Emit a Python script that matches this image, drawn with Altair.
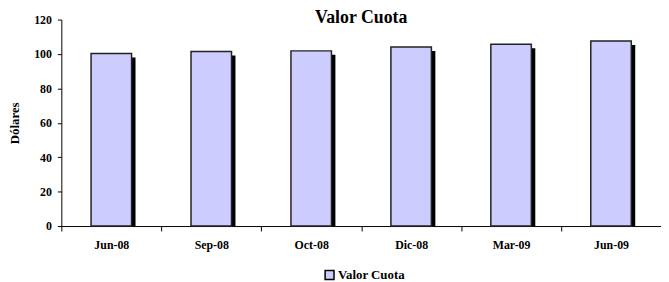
import altair as alt
import pandas as pd

categories = ["Jun-08", "Sep-08", "Oct-08", "Dic-08", "Mar-09", "Jun-09"]
values = [100.3, 101.4, 101.8, 104.1, 105.6, 107.5]
series_name = "Valor Cuota"
y_ticks = [0, 20, 40, 60, 80, 100, 120]

df = pd.DataFrame({"cat": categories, "val": values, "serie": series_name})

FONT = "Liberation Serif"

x_enc = alt.X("cat:N", sort=categories, title=None,
              scale=alt.Scale(paddingInner=0, paddingOuter=0),
              axis=alt.Axis(labelAngle=0, tickBand="extent", labelFont=FONT,
                            labelFontWeight="bold", labelFontSize=12, labelColor="black",
                            domainColor="black", tickColor="black", tickSize=5,
                            labelPadding=9))
y_enc = alt.Y("val:Q", title="Dólares",
              scale=alt.Scale(domain=[0, 120], nice=False),
              axis=alt.Axis(values=y_ticks, grid=False, labelFont=FONT,
                            labelFontWeight="bold", labelFontSize=12, labelColor="black",
                            labelPadding=6,
                            titleFont=FONT, titleFontWeight="bold", titleFontSize=13,
                            titleColor="black", domainColor="black", tickColor="black",
                            tickSize=4, titlePadding=12))

shadow = alt.Chart(df).mark_bar(size=41, color="black", xOffset=4, yOffset=4,
                                clip=True).encode(
    x=x_enc, y=y_enc
)

bars = alt.Chart(df).mark_bar(size=41, stroke="#222222", strokeWidth=1.5).encode(
    x=x_enc, y=y_enc,
    color=alt.Color("serie:N", title=None,
                    scale=alt.Scale(domain=[series_name], range=["#CCCCFF"]),
                    legend=alt.Legend(orient="none", legendX=265, legendY=252,
                                      symbolType="square",
                                      symbolStrokeColor="black", symbolStrokeWidth=1.5,
                                      symbolSize=81, labelFont=FONT, labelFontWeight="bold",
                                      labelFontSize=13, labelColor="black",
                                      labelOffset=2)),
)

chart = alt.layer(shadow, bars).properties(
    width=607, height=209,
    title=alt.TitleParams(series_name, font=FONT, fontSize=18, fontWeight="bold",
                          color="black", anchor="middle", offset=-13),
    padding={"left": 54, "right": 0, "top": 10, "bottom": 60},
    autosize=alt.AutoSizeParams(type="none"),
).configure_view(stroke=None)

chart.save("out.html", embed_options={"renderer": "svg", "actions": False})
